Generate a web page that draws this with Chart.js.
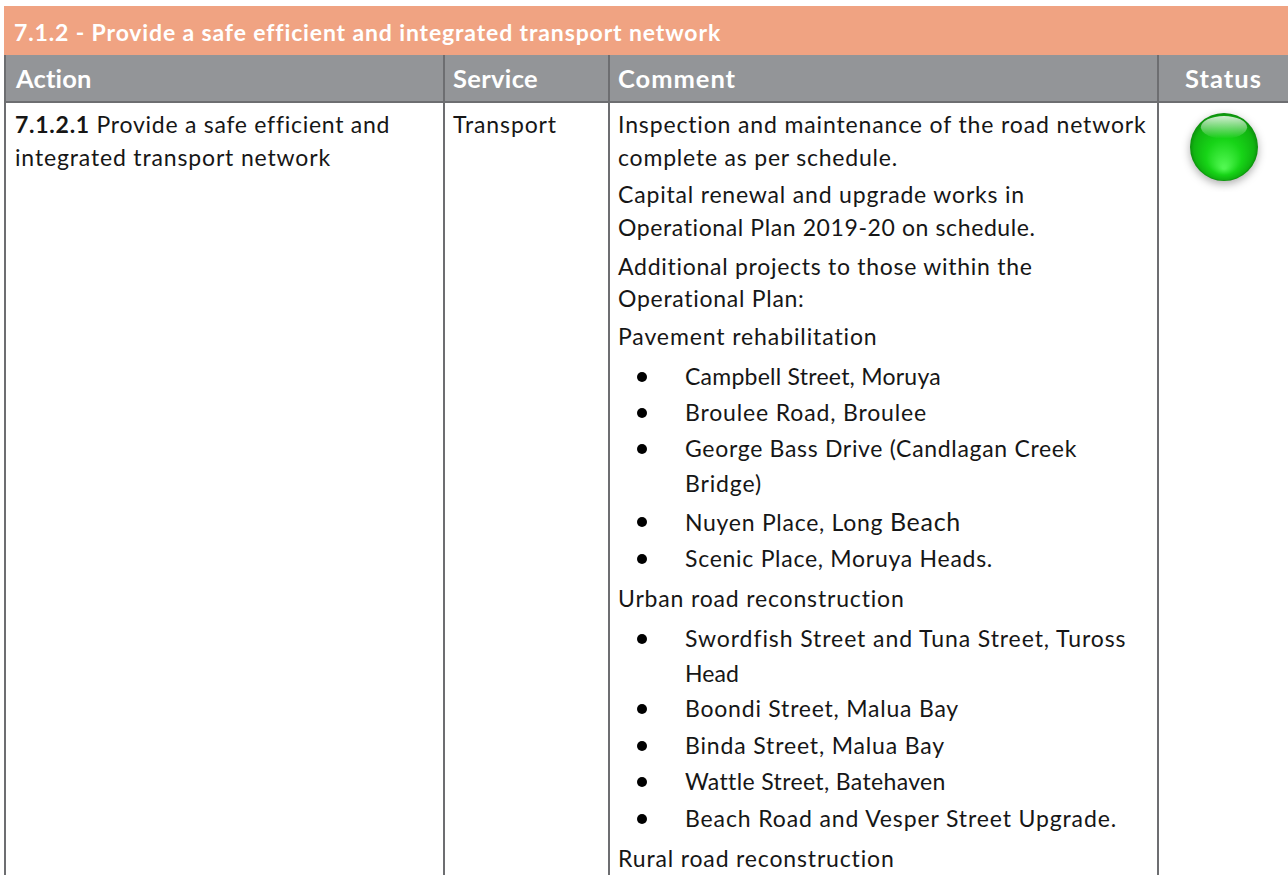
<!DOCTYPE html>
<html><head><meta charset="utf-8">
<script src="https://cdn.jsdelivr.net/npm/chart.js@4"></script>
<style>
html,body{margin:0;padding:0;background:#fff;width:1288px;height:875px;overflow:hidden}
#page{position:relative;width:1288px;height:875px;font-family:Lato,sans-serif;color:#161616}
.b{position:absolute}
.t{position:absolute;white-space:nowrap;line-height:30px;height:30px}
.w{color:#fff;font-weight:700}
#status{position:absolute;left:1161px;top:102px;width:126px;height:90px}
</style></head><body>
<div id="page"></div>
<div id="status"><canvas id="c" width="126" height="90"></canvas></div>
<script>
const title = "7.1.2 - Provide a safe efficient and integrated transport network";
const headers = ["Action","Service","Comment","Status"];
const actionId = "7.1.2.1";
const actionText = [" Provide a safe efficient and","integrated transport network"];
const serviceText = "Transport";
const commentLines = [
 "Inspection and maintenance of the road network","complete as per schedule.",
 "Capital renewal and upgrade works in","Operational Plan 2019-20 on schedule.",
 "Additional projects to those within the","Operational Plan:",
 "Pavement rehabilitation",
 "•Campbell Street, Moruya","•Broulee Road, Broulee","•George Bass Drive (Candlagan Creek"," Bridge)",
 "•Nuyen Place, Long Beach","•Scenic Place, Moruya Heads.",
 "Urban road reconstruction",
 "•Swordfish Street and Tuna Street, Tuross"," Head",
 "•Boondi Street, Malua Bay","•Binda Street, Malua Bay","•Wattle Street, Batehaven",
 "•Beach Road and Vesper Street Upgrade.",
 "Rural road reconstruction"];
const statusLabels = ["On track"];
const statusValues = [1];

const page = document.getElementById('page');
function box(l,t,w,h,c){const d=document.createElement('div');d.className='b';
 d.style.cssText=`left:${l}px;top:${t}px;width:${w}px;height:${h}px;background:${c}`;page.appendChild(d);return d;}
function text(s,x,base,right,opts={}){const size=opts.size||23;
 const d=document.createElement('div');d.className='t'+(opts.w?' w':'');
 d.style.left=x+'px';d.style.fontSize=size+'px';d.style.top=(base-15-0.387*size)+'px';
 if(opts.html)d.innerHTML=opts.html;else d.textContent=s;page.appendChild(d);
 const nat=d.getBoundingClientRect().width;const n=d.textContent.length;
 d.style.letterSpacing=((right-x-nat)/n).toFixed(3)+'px';return d;}

box(4,6,1284,49,'#f0a382');
box(4,55,1284,47,'#939598');
const line='#6d6e71';
box(4,55,2,820,line);[443,608,1157].forEach(x=>box(x,55,2,820,line));
box(4,101,1284,2,line);

text(title,14,41,720,{w:1,size:23});
const hx=[[16,92],[453,538],[618,736],[1185,1262]];
headers.forEach((h,i)=>text(h,hx[i][0],88,hx[i][1],{w:1,size:25.5}));
text('',15,133,389,{html:'<b>'+actionId+'</b>'+actionText[0]});
text(actionText[1],15,166,331);
text(serviceText,453,133,557);

const bl=[133,166,203,236,275,307,345,385,421,457,492,530,567,607,647,682,717,754,790,827,867];
const cr=[1147,898,1025,1036,1033,805,878,941,927,1077,762,961,993,905,1126,739,959,945,945,1117,895];
commentLines.forEach((s,i)=>{
 let x=618,str=s;
 if(s[0]==='•'||s[0]===' '){ x=685; str=s.slice(1);
  if(s[0]==='•'){const d=document.createElement('div');d.className='b';
   d.style.cssText=`left:637px;top:${bl[i]-13}px;width:10px;height:10px;border-radius:50%;background:#000`;page.appendChild(d);} }
 if(str.endsWith('Long Beach')) text('',x,bl[i],cr[i],{html:str.replace('Beach','<span style="font-size:25px">Beach</span>')});
 else text(str,x,bl[i],cr[i]);
});

const gloss={id:'gloss',
 beforeDatasetDraw(ch){const c=ch.ctx;c.save();c.shadowColor='rgba(0,0,0,.32)';c.shadowBlur=9;c.shadowOffsetY=3;},
 afterDatasetDraw(ch){const c=ch.ctx;c.restore();
  const e=ch.getDatasetMeta(0).data[0],r=e.options.radius,x=e.x,y=e.y;
  c.save();const g=c.createLinearGradient(0,y-r*.9,0,y-r*.25);
  g.addColorStop(0,'rgba(255,255,255,.8)');g.addColorStop(1,'rgba(255,255,255,0)');
  c.fillStyle=g;c.beginPath();c.ellipse(x,y-r*.58,r*.68,r*.33,0,0,Math.PI*2);c.fill();c.restore();}};
new Chart(document.getElementById('c'),{
 type:'bubble',
 data:{labels:statusLabels,datasets:[{label:'Status',
  data:statusValues.map(v=>({x:v,y:v,r:34})),
  clip:false,
  borderWidth:0,
  backgroundColor(ctx){const a=ctx.chart;const x=a.width/2,y=a.height/2,r=34;
    const g=a.ctx.createRadialGradient(x,y+r*.6,r*.05,x,y,r);
    g.addColorStop(0,'#50f750');g.addColorStop(.5,'#17d417');g.addColorStop(.88,'#10b410');g.addColorStop(1,'#0c8f0c');return g;}
 }]},
 options:{responsive:false,animation:false,layout:{padding:0},
  plugins:{legend:{display:false},tooltip:{enabled:false}},
  scales:{x:{display:false,min:0,max:2},y:{display:false,min:0,max:2}}},
 plugins:[gloss]});
</script></body></html>
